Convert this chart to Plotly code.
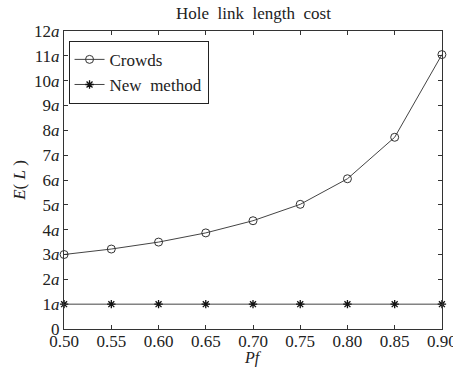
import plotly.graph_objects as go

pf = [0.50, 0.55, 0.60, 0.65, 0.70, 0.75, 0.80, 0.85, 0.90]
crowds = [3.0, 3.22, 3.5, 3.87, 4.36, 5.02, 6.05, 7.72, 11.05]
new_method = [1, 1, 1, 1, 1, 1, 1, 1, 1]
y_tick_vals = list(range(0, 13))
y_tick_text = ["0"] + [f"{i}<i>a</i>" for i in range(1, 13)]
x_tick_vals = [0.50, 0.55, 0.60, 0.65, 0.70, 0.75, 0.80, 0.85, 0.90]
x_tick_text = ["0.50", "0.55", "0.60", "0.65", "0.70", "0.75", "0.80", "0.85", "0.90"]

font = "Liberation Serif"

fig = go.Figure()
fig.add_trace(go.Scatter(
    x=pf, y=crowds, name="Crowds", mode="lines+markers",
    line=dict(color="#444444", width=1),
    marker=dict(symbol="circle-open", size=8, color="#333333", line=dict(width=1)),
    cliponaxis=False))
fig.add_trace(go.Scatter(
    x=pf, y=new_method, name="New&nbsp; method", mode="lines+markers",
    line=dict(color="#444444", width=1),
    marker=dict(symbol="asterisk-open", size=7, color="#111111", line=dict(width=1.3)),
    cliponaxis=False))

axis_common = dict(showgrid=False, zeroline=False, showline=True, linecolor="#333333",
                   linewidth=1, mirror="ticks", ticks="inside", ticklen=4,
                   tickcolor="#333333", ticklabeloverflow="allow", automargin=False,
                   tickfont=dict(family=font, size=17, color="#222222"))

fig.update_xaxes(range=[0.4999, 0.9001], tickvals=x_tick_vals, ticktext=x_tick_text,
                 ticklabelstandoff=-3, **axis_common)
fig.update_yaxes(range=[0, 12], tickvals=y_tick_vals, ticktext=y_tick_text,
                 title=dict(text="<i>E</i>( <i>L</i> )", font=dict(family=font, size=17, color="#222222"), standoff=4),
                 **axis_common)

fig.update_layout(
    width=453, height=370,
    margin=dict(l=64, r=11, t=31, b=41),
    paper_bgcolor="white", plot_bgcolor="white",
    showlegend=True,
    legend=dict(x=0.012, y=0.967, xanchor="left", yanchor="top",
                bordercolor="#222222", borderwidth=1, bgcolor="white",
                font=dict(family=font, size=17, color="#222222"),
                itemwidth=30, tracegroupgap=0),
    annotations=[
        dict(text="Hole  link  length  cost", x=0.5, y=1.0, xref="paper", yref="paper",
             xanchor="center", yanchor="bottom", yshift=6, showarrow=False,
             font=dict(family=font, size=17, color="#222222")),
        dict(text="<i>Pf</i>", x=0.5, y=0, xref="paper", yref="paper",
             xanchor="center", yanchor="top", yshift=-18, showarrow=False,
             font=dict(family=font, size=16, color="#222222")),
    ],
)

fig.write_html("out.html", config={"displayModeBar": False},
               post_script="document.body.style.margin='0';document.body.style.overflow='hidden';")
